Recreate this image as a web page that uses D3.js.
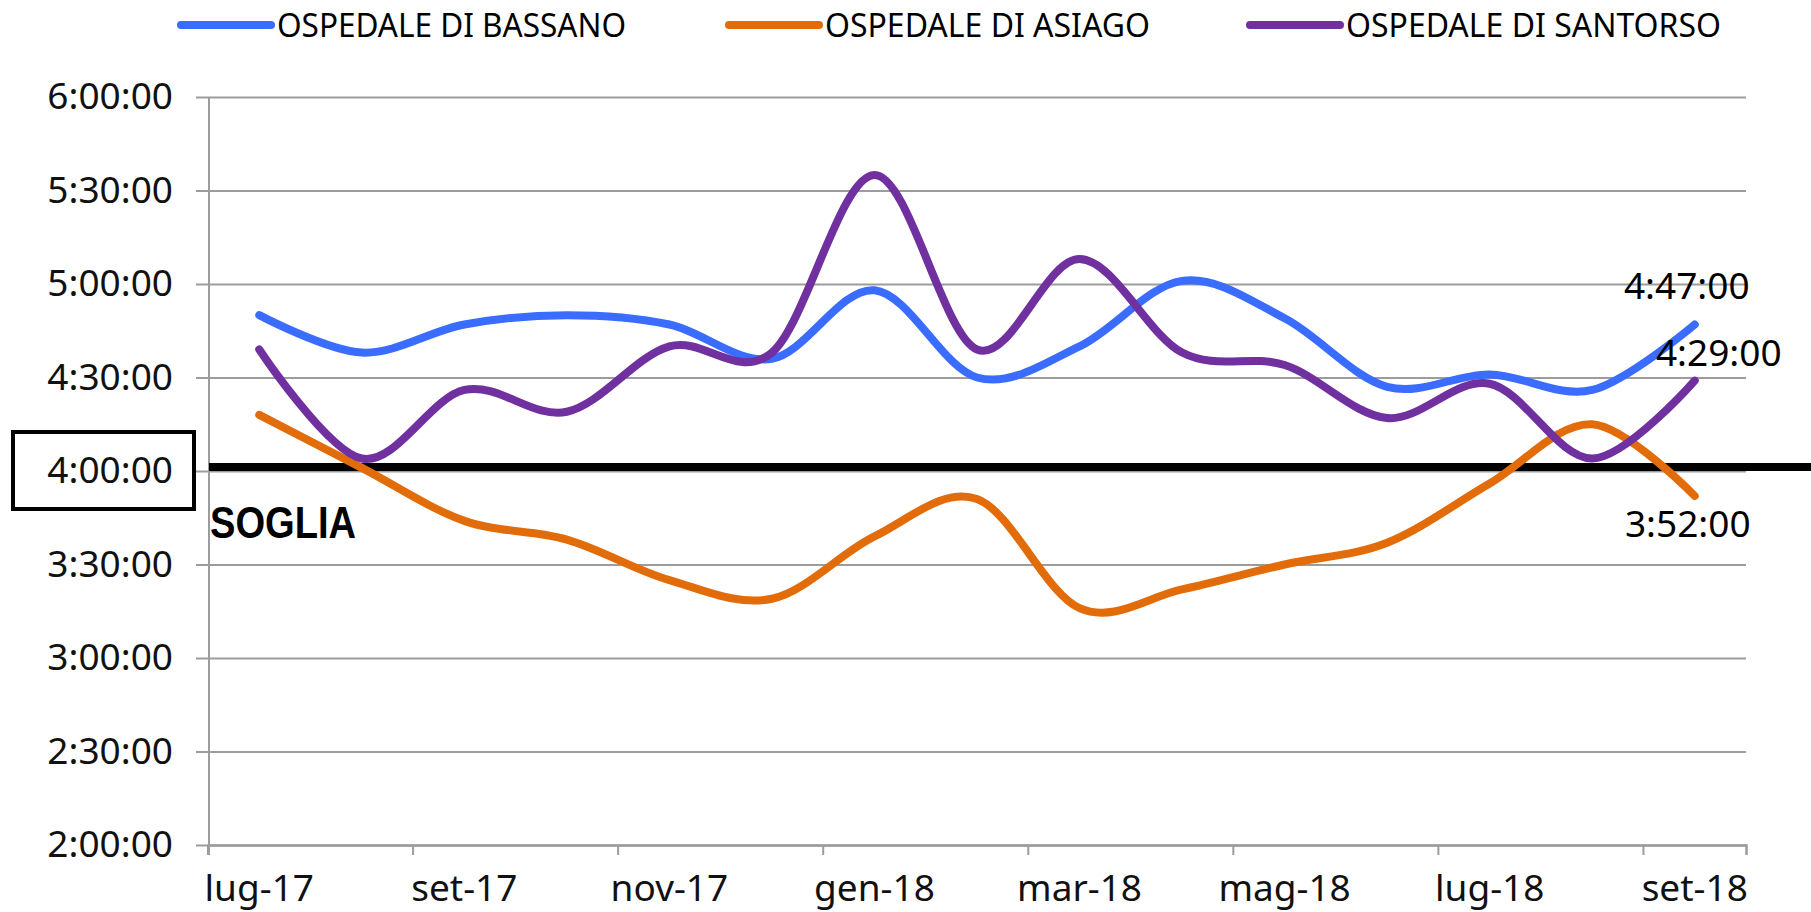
<!DOCTYPE html>
<html>
<head>
<meta charset="utf-8">
<script src="https://cdn.jsdelivr.net/npm/d3@7"></script>
<style>
    body { margin: 0; background: #fff; }
    svg { display: block; }
    text { fill: #000; }
</style>
</head>
<body>
<svg id="chart" width="1811" height="912"></svg>
<script>

const months = ["lug-17","ago-17","set-17","ott-17","nov-17","dic-17","gen-18","feb-18","mar-18","apr-18","mag-18","giu-18","lug-18","ago-18","set-18"];

const bassano  = ["4:50","4:38","4:47","4:50","4:47","4:36","4:58","4:30","4:40","5:01","4:49","4:27","4:31","4:26","4:47"];
const asiago   = ["4:18","4:01","3:44","3:38","3:25","3:19","3:39","3:51","3:16","3:22","3:30","3:37","3:56","4:15","3:52"];
const santorso = ["4:39","4:04","4:26","4:19","4:40","4:38","5:35","4:39","5:08","4:38","4:34","4:17","4:28","4:04","4:29"];

const seriesNames = ["OSPEDALE DI BASSANO", "OSPEDALE DI ASIAGO", "OSPEDALE DI SANTORSO"];
const seriesColors = ["#3a6cff", "#e36c0a", "#7030a0"];

const yTicks = ["2:00","2:30","3:00","3:30","4:00","4:30","5:00","5:30","6:00"];
const soglia = "4:00";

const toMin = s => { const p = s.split(":"); return +p[0] * 60 + +p[1]; };
const fmt = m => `${Math.floor(m / 60)}:${String(m % 60).padStart(2, "0")}:00`;

const margin = {top: 97, right: 65, bottom: 67, left: 208};
const W = 1811, H = 912;
const font = "'Noto Sans', sans-serif";

document.addEventListener('DOMContentLoaded', function() {
    drawChart();
});

function drawChart(){
    const svg = d3.select("#chart");

    const x = d3.scaleBand()
        .domain(months)
        .range([margin.left, W - margin.right]);
    const bw = x.bandwidth();
    const cx = m => x(m) + bw / 2;

    const y = d3.scaleLinear()
        .domain([toMin("2:00"), toMin("6:00")])
        .range([H - margin.bottom, margin.top]);

    // gridlines
    svg.append("g")
        .attr("transform", `translate(196,0)`)
        .call(d3.axisRight(y).tickValues(yTicks.map(toMin)).tickSize(W - margin.right - 196).tickFormat(""))
        .call(g => g.select(".domain").remove())
        .selectAll("line")
        .attr("stroke", "#9c9c9c")
        .attr("stroke-width", 2);

    // y axis
    const yAxis = svg.append("g")
        .attr("transform", `translate(${margin.left + 1},0)`)
        .call(d3.axisLeft(y).tickValues(yTicks.map(toMin)).tickSize(0).tickPadding(36).tickFormat(fmt));
    yAxis.select(".domain").remove();
    yAxis.selectAll("text")
        .style("font-family", font)
        .style("font-size", "37px")
        .style("fill", "#111");

    svg.append("line")
        .attr("x1", margin.left + 1).attr("x2", margin.left + 1)
        .attr("y1", margin.top).attr("y2", H - margin.bottom + 10)
        .attr("stroke", "#9c9c9c").attr("stroke-width", 2);

    // x axis
    const xAxis = svg.append("g")
        .attr("transform", `translate(0,${H - margin.bottom})`)
        .call(d3.axisBottom(x).tickValues(months.filter((d, i) => i % 2 === 0)).tickSize(10).tickPadding(20));
    xAxis.select(".domain")
        .attr("stroke", "#9c9c9c").attr("stroke-width", 2.5);
    xAxis.selectAll(".tick line")
        .attr("transform", `translate(${-bw / 2},0)`)
        .attr("stroke", "#9c9c9c").attr("stroke-width", 2);
    xAxis.selectAll(".tick text")
        .style("font-family", font)
        .style("font-size", "37px")
        .style("fill", "#111");

    // threshold
    svg.append("line")
        .attr("x1", margin.left + 1).attr("x2", W)
        .attr("y1", y(toMin(soglia)) - 4).attr("y2", y(toMin(soglia)) - 4)
        .attr("stroke", "#000").attr("stroke-width", 8);

    svg.append("text")
        .attr("x", margin.left + 2)
        .attr("y", y(toMin(soglia)) + 67)
        .style("font-family", "'Liberation Sans', Arial, sans-serif")
        .style("font-weight", "bold")
        .style("font-size", "45px")
        .attr("textLength", 146)
        .attr("lengthAdjust", "spacingAndGlyphs")
        .text("SOGLIA");

    svg.append("rect")
        .attr("x", 13).attr("y", y(toMin(soglia)) - 39)
        .attr("width", 181).attr("height", 77)
        .attr("fill", "none").attr("stroke", "#000").attr("stroke-width", 4);

    // series
    const allSeries = [bassano, asiago, santorso];
    const line = d3.line()
        .x((d, i) => cx(months[i]))
        .y(d => y(toMin(d)))
        .curve(d3.curveCatmullRom.alpha(0));

    allSeries.forEach((s, k) => {
        svg.append("path")
            .datum(s)
            .attr("d", line)
            .attr("fill", "none")
            .attr("stroke", seriesColors[k])
            .attr("stroke-width", 8)
            .attr("stroke-linecap", "round");
    });

    // end labels
    const last = months.length - 1;
    const labelOffsets = [[-8, -26], [-7, 41], [24, -15]];
    allSeries.forEach((s, k) => {
        svg.append("text")
            .attr("x", cx(months[last]) + labelOffsets[k][0])
            .attr("y", y(toMin(s[last])) + labelOffsets[k][1])
            .attr("text-anchor", "middle")
            .style("font-family", font)
            .style("font-size", "37px")
            .text(fmt(toMin(s[last])));
    });

    // legend
    const legendX = [181, 729, 1250];
    const legendW = [349, 325, 375];
    const legend = svg.append("g");
    seriesNames.forEach((name, k) => {
        legend.append("line")
            .attr("x1", legendX[k]).attr("x2", legendX[k] + 90)
            .attr("y1", 25).attr("y2", 25)
            .attr("stroke", seriesColors[k])
            .attr("stroke-width", 8)
            .attr("stroke-linecap", "round");
        legend.append("text")
            .attr("x", legendX[k] + 96)
            .attr("y", 37)
            .style("font-family", font)
            .style("font-size", "33px")
            .attr("textLength", legendW[k])
            .attr("lengthAdjust", "spacingAndGlyphs")
            .text(name);
    });
}
</script>
</body>
</html>
